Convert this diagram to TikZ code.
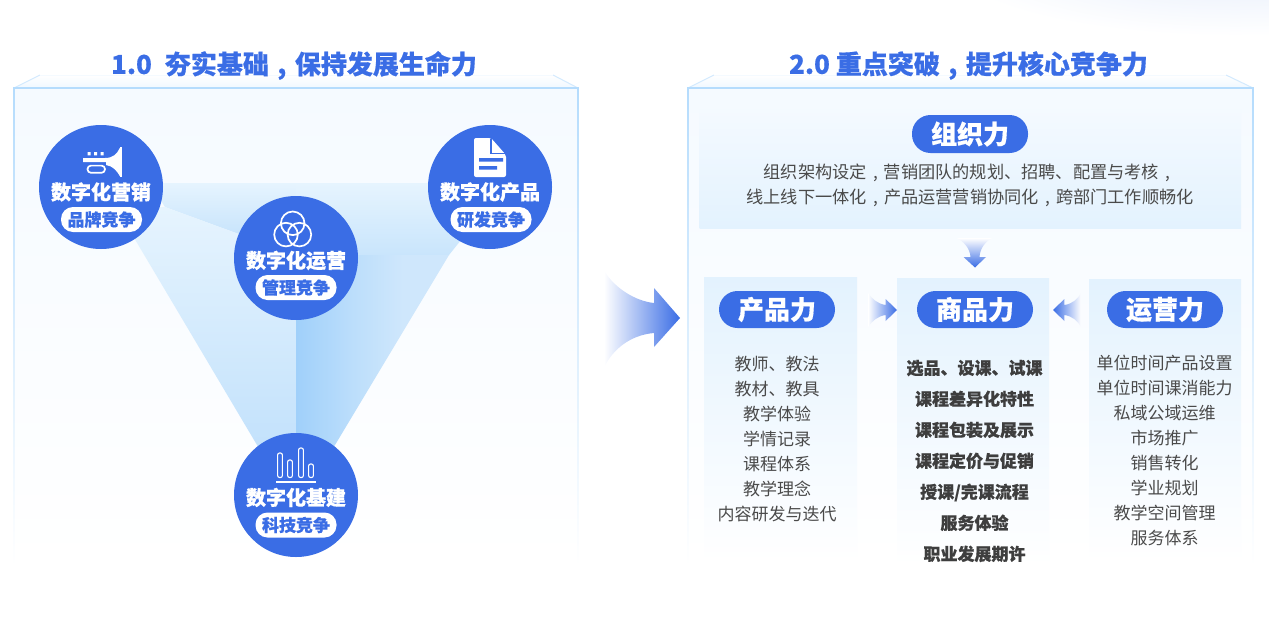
\documentclass[tikz,border=0pt]{standalone}
\usepackage{fontspec}
\setmainfont{Noto Sans CJK SC}[BoldFeatures={FakeBold=0.5}]
\definecolor{brand}{HTML}{3A6DE5}
\definecolor{edgeblue}{HTML}{B5DCFD}
\definecolor{bodygrey}{HTML}{4A4A4A}
\definecolor{boldgrey}{HTML}{3E3E3E}
\definecolor{casetop}{HTML}{F5FAFF}
\definecolor{paneltop}{HTML}{E3F2FE}
\definecolor{glow}{HTML}{E4ECFB}
\definecolor{facetpale}{HTML}{E6F4FE}
\definecolor{facetlow}{HTML}{BCDEFB}
\definecolor{facetblend}{HTML}{C9E5FC}
\definecolor{facetdeep}{HTML}{A0D0FA}
\definecolor{facetmid}{HTML}{BEDFFB}
\definecolor{facetside}{HTML}{CFE7FC}
\pgfdeclarehorizontalshading{facetramp}{100bp}{
  color(0bp)=(facetdeep); color(25bp)=(facetdeep); color(45.3bp)=(facetmid);
  color(60bp)=(facetside); color(75bp)=(facetside); color(100bp)=(facetside)}
\newcommand{\fwc}{\makebox[1em][c]{,}}
\tikzset{
  heading/.style={font=\fontsize{26}{26}\selectfont\bfseries,text=brand,inner sep=0pt},
  hub/.style={circle,fill=brand,minimum size=124pt,inner sep=0pt},
  hublabel/.style={font=\fontsize{20}{20}\selectfont\bfseries,text=white,inner sep=0pt},
  hubtag/.style={fill=white,text=brand,rounded corners=12pt,minimum width=81pt,minimum height=25pt,inner sep=0pt,font=\fontsize{17}{17}\selectfont\bfseries},
  skillpill/.style={fill=brand,text=white,rounded corners=18.5pt,minimum width=116pt,minimum height=37pt,inner sep=0pt,font=\fontsize{26}{26}\selectfont\bfseries},
  plainlist/.style={align=center,text=bodygrey,inner sep=0pt,font=\fontsize{17}{25}\selectfont},
  boldlist/.style={align=center,text=boldgrey,inner sep=0pt,font=\fontsize{17}{31}\selectfont\bfseries},
  orgtext/.style={align=center,text=bodygrey,inner sep=0pt,font=\fontsize{17.2}{25}\selectfont},
  column/.style={top color=paneltop,bottom color=white,draw=none},
  flow/.style={left color=white,middle color=brand!45,right color=brand},
  flowback/.style={right color=white,middle color=brand!45,left color=brand},
  flowdown/.style={top color=white,middle color=brand!45,bottom color=brand},
}
\begin{document}
\begin{tikzpicture}[x=1pt,y=-1pt]
\useasboundingbox (0,0) rectangle (1269,640);
% soft glow in the upper right corner
\begin{scope}
  \clip (0,0) rectangle (1269,640);
  \shade[inner color=glow,outer color=white] (1235,-40) ellipse [x radius=290,y radius=76];
\end{scope}

% left and right display cases
\foreach \xa/\xb/\xc/\xd in {14/40/553/578,688/714/1226/1253}{
  \shade[top color=white,bottom color=casetop!70!paneltop] (\xb,75) -- (\xc,75) -- (\xd,88) -- (\xa,88) -- cycle;
  \shade[top color=casetop,bottom color=white] (\xa,88) rectangle (\xd,566);
  \draw[edgeblue!60,line width=1pt] (\xa,88) -- (\xb,75);
  \draw[edgeblue!60,line width=1pt] (\xd,88) -- (\xc,75);
  \draw[edgeblue!15,line width=.8pt] (\xb,75) -- (\xc,75);
  \draw[edgeblue,line width=1.5pt] (\xa-1,88) -- (\xd+1,88);
  \shade[top color=edgeblue,bottom color=white] (\xa-.8,88) rectangle (\xa+.8,566);
  \shade[top color=edgeblue,bottom color=white] (\xd-.8,88) rectangle (\xd+.8,566);
}

% facets of the triangle behind the hubs
\shade[top color=facetpale,bottom color=facetlow]
  (150,183) -- (296,183) -- (296,255) -- (165,207) -- cycle;
\shade[top color=facetpale,bottom color=facetlow]
  (130,207) -- (165,207) -- (296,255) -- (296,495) -- (257,445) -- (130,231) -- cycle;
\shade[top color=facetpale,bottom color=facetblend]
  (296,183) -- (465,183) -- (465,235) -- (449,255) -- (296,255) -- cycle;
\shade[shading=facetramp]
  (296,255) -- (449,255) -- (335,445) -- (296,495) -- cycle;

% hubs
\node[hub] (mkt) at (101,187) {};
\node[hub] (prd) at (490,187) {};
\node[hub] (ops) at (296,258) {};
\node[hub] (tech) at (296,495) {};

% horn icon
\fill[white] (119.6,147) rectangle (122.2,177);
\fill[white] (83,158) -- (105,158) .. controls (113,158) and (117,154) .. (119.8,148)
  -- (119.8,176) .. controls (117,171) and (113,166) .. (106,165) -- (106,162) -- (83,162) -- cycle;
\draw[white,line width=1.7pt,rounded corners=3.5pt] (87.5,165.6) rectangle (105,172.8);
\fill[white] (87.5,152) rectangle (90.5,155.4) (94,152) rectangle (97,155.4) (100.5,152) rectangle (103.5,155.4);

% document icon
\fill[white,rounded corners=2pt] (474,138) -- (491,138) -- (506,155) -- (506,177) -- (474,177) -- cycle;
\draw[brand,line width=1.4pt] (491,138.5) -- (491,153.5) -- (506,153.5);
\fill[brand] (479,158) rectangle (503,161.6) (479,166) rectangle (497,169.6);

% overlapping rings icon
\draw[white,line width=1.7pt] (292.7,223.3) circle (11.8) (286,234.6) circle (11.8) (299.4,234.6) circle (11.8);

% bar chart icon
\foreach \bx/\bt in {280/453,290/460,301/448,311/464}{
  \draw[white,line width=1.1pt,rounded corners=2pt] (\bx-2.4,\bt) rectangle (\bx+2.4,477.5);
}
\fill[white] (276,481) rectangle (316,482.6);

% hub captions
\node[hublabel] (mktl) at (101,192) {数字化营销};
\node[hubtag] (mktt) at (101.5,219.5) {品牌竞争};
\node[hublabel] (prdl) at (490,192) {数字化产品};
\node[hubtag] (prdt) at (491,219.5) {研发竞争};
\node[hublabel] (opsl) at (296,260.5) {数字化运营};
\node[hubtag] (opst) at (296,287.5) {管理竞争};
\node[hublabel] (techl) at (296,497.5) {数字化基建};
\node[hubtag] (techt) at (296,525) {科技竞争};

% headings
\node[heading] (t1) at (294,65.5) {1.0\hspace{.5em}夯实基础\fwc 保持发展生命力};
\node[heading] (t2) at (968.5,65.5) {2.0 重点突破\fwc 提升核心竞争力};

% panels of the second case
\shade[top color=casetop,bottom color=paneltop] (699.5,105) rectangle (1241,228);
\shade[column] (704,277) rectangle (857,562);
\shade[column] (897,278) rectangle (1049,566);
\shade[column] (1089,279) rectangle (1241,562);

% organisation block
\node[skillpill,minimum height=38pt] (org) at (970,134) {组织力};
\node[orgtext] (orgb) at (970,185.5) {组织架构设定\fwc 营销团队的规划、招聘、配置与考核\fwc\\线上线下一体化\fwc 产品运营营销协同化\fwc 跨部门工作顺畅化};

% three columns
\node[skillpill] (p) at (777,309.5) {产品力};
\node[skillpill] (c) at (975,309.5) {商品力};
\node[skillpill] (o) at (1165,309.5) {运营力};
\node[plainlist] (pl) at (777,439) {教师、教法\\教材、教具\\教学体验\\学情记录\\课程体系\\教学理念\\内容研发与迭代};
\node[boldlist] (cl) at (974.5,461) {选品、设课、试课\\课程差异化特性\\课程包装及展示\\课程定价与促销\\授课/完课流程\\服务体验\\职业发展期许};
\node[plainlist] (ol) at (1164.5,450.5) {单位时间产品设置\\单位时间课消能力\\私域公域运维\\市场推广\\销售转化\\学业规划\\教学空间管理\\服务体系};

% large arrow between the cases
\shade[flow] (680,318) -- (654,288) -- (654,303) .. controls (635,301) and (615,288) .. (605,272)
  -- (604,368) .. controls (612,350) and (630,335) .. (654,333) -- (654,347) -- cycle;

% small arrows towards the middle column
\shade[flowdown] (957,238) .. controls (963,241) and (970,248) .. (970.5,257) -- (963.5,257) -- (975,267.5) -- (986,257)
  -- (979.5,257) .. controls (980,248) and (986,241) .. (992,238) -- cycle;
\shade[flow] (897,310) -- (885.6,299) -- (885.6,305) .. controls (878,304) and (872,299) .. (868,293)
  -- (868,327) .. controls (872,321) and (878,316) .. (885.6,315) -- (885.6,321) -- cycle;
\shade[flowback] (1053,310) -- (1064.4,299) -- (1064.4,305) .. controls (1072,304) and (1078,299) .. (1081,293)
  -- (1081,327) .. controls (1078,321) and (1072,316) .. (1064.4,315) -- (1064.4,321) -- cycle;
\end{tikzpicture}
\end{document}
